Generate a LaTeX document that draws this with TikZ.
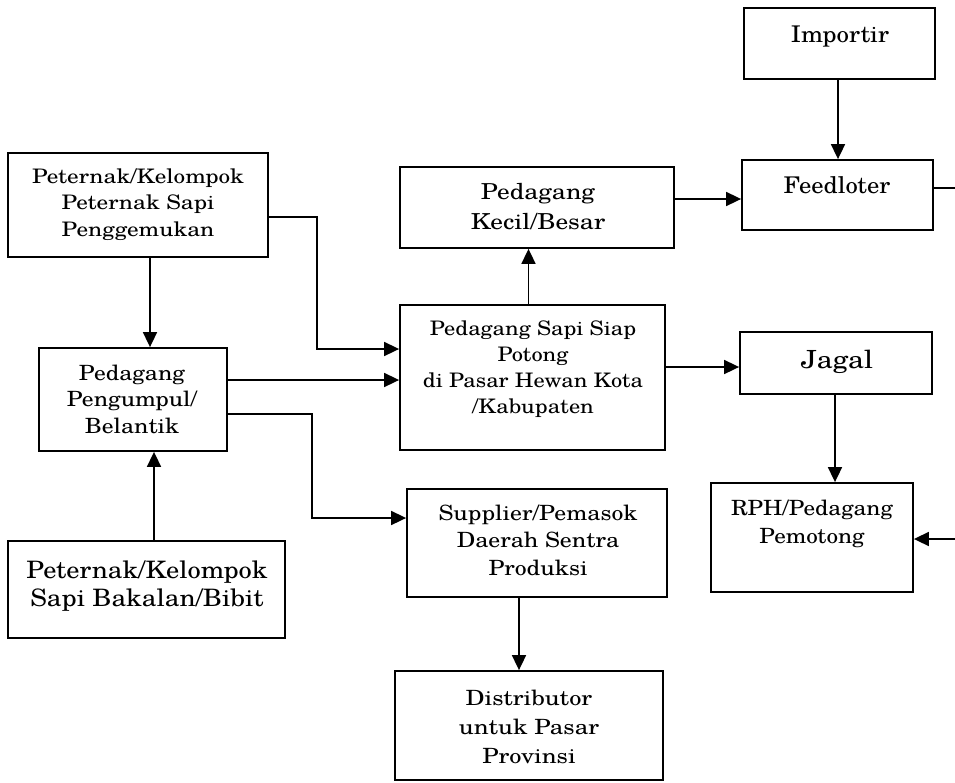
\documentclass[tikz,border=0pt]{standalone}
\usepackage{fontspec}
\setmainfont{texgyreschola}[Extension=.otf,UprightFont=*-regular,BoldFont=*-bold]
\usetikzlibrary{arrows.meta,calc}
\newcommand{\fsz}[3]{\fontsize{#1}{#2}\selectfont\addfontfeatures{FakeStretch=#3}}
\begin{document}
\begin{tikzpicture}[x=1pt,y=-1pt,
  box/.style={draw,line width=1.8pt,rectangle,inner sep=0pt},
  txt/.style={align=center,inner sep=0pt,anchor=base},
  arr/.style={line width=1.7pt,-{Triangle[length=15pt,width=14pt]}},
  ln/.style={line width=1.7pt}]
\useasboundingbox (0,0) rectangle (955,782);
% boxes
\node[box,minimum width=191pt,minimum height=71pt] (imp) at (839.5,43.5) {};
\node[box,minimum width=191pt,minimum height=70pt] (feed) at (837.5,195) {};
\node[box,minimum width=274pt,minimum height=81pt] (kec) at (537,207.5) {};
\node[box,minimum width=265pt,minimum height=145pt] (pas) at (532.5,377.5) {};
\node[box,minimum width=192pt,minimum height=62pt] (jag) at (836,363) {};
\node[box,minimum width=202pt,minimum height=109pt] (rph) at (812,537.5) {};
\node[box,minimum width=260pt,minimum height=104pt] (A) at (138,205) {};
\node[box,minimum width=188pt,minimum height=103pt] (B) at (133,399.5) {};
\node[box,minimum width=277pt,minimum height=97pt] (bak) at (146.5,589.5) {};
\node[box,minimum width=260pt,minimum height=108pt] (sup) at (537,543) {};
\node[box,minimum width=268pt,minimum height=109pt] (dist) at (529,725.5) {};
% texts (anchored at the baseline of their last line)
\node[txt,font=\fsz{23}{28}{1.08}] (impt) at (840,42) {Importir};
\node[txt,font=\fsz{23}{28}{1.07}] (feedt) at (837,193) {Feedloter};
\node[txt,font=\fsz{22}{30}{1.15}] (kect) at (538,229) {Pedagang\\Kecil/Besar};
\node[txt,font=\fsz{20}{25.7}{1.12}] (past) at (533,413) {Pedagang Sapi Siap\\Potong\\di Pasar Hewan Kota\\/Kabupaten};
\node[txt,font=\fsz{25}{30}{1.15}] (jagt) at (837,368) {Jagal};
\node[txt,font=\fsz{21}{28}{1.1}] (rpht) at (812,543) {RPH/Pedagang\\Pemotong};
\node[txt,font=\fsz{20}{26.5}{1.16}] (At) at (138,236) {Peternak/Kelompok\\Peternak Sapi\\Penggemukan};
\node[txt,font=\fsz{21}{26.5}{1.12}] (Bt) at (132,433) {Pedagang\\Pengumpul/\\Belantik};
\node[txt,font=\fsz{24}{28}{1.1}] (bakt) at (147,606) {Peternak/Kelompok\\Sapi Bakalan/Bibit};
\node[txt,font=\fsz{21}{27.5}{1.13}] (supt) at (538,575) {Supplier/Pemasok\\Daerah Sentra\\Produksi};
\node[txt,font=\fsz{21}{29}{1.16}] (distt) at (529,763) {Distributor\\untuk Pasar\\Provinsi};
% free ends
\coordinate (feedout) at (955,188);
\coordinate (rphin) at (955,539);
% connectors
\draw[arr] (imp.south -| 838,0) -- (feed.north -| 838,0);
\draw[arr] (kec.east |- 0,199) -- (feed.west |- 0,199);
\draw[arr] (pas.north -| 528.5,0) -- (kec.south -| 528.5,0);
\draw[arr] (pas.east |- 0,367) -- (jag.west |- 0,367);
\draw[arr] (jag.south -| 835,0) -- (rph.north -| 835,0);
\draw[ln] (feed.east |- 0,188) -- (feedout);
\draw[arr] (rphin) -- (rph.east |- 0,539);
\draw[arr] (A.south -| 150,0) -- (B.north -| 150,0);
\draw[arr] (A.east |- 0,217) -- (317,217) -- (317,349) -- (pas.west |- 0,349);
\draw[arr] (B.east |- 0,380) -- (pas.west |- 0,380);
\draw[arr] (B.east |- 0,414) -- (312,414) -- (312,518) -- (sup.west |- 0,518);
\draw[arr] (bak.north -| 154,0) -- (B.south -| 154,0);
\draw[arr] (sup.south -| 519,0) -- (dist.north -| 519,0);
\end{tikzpicture}
\end{document}
